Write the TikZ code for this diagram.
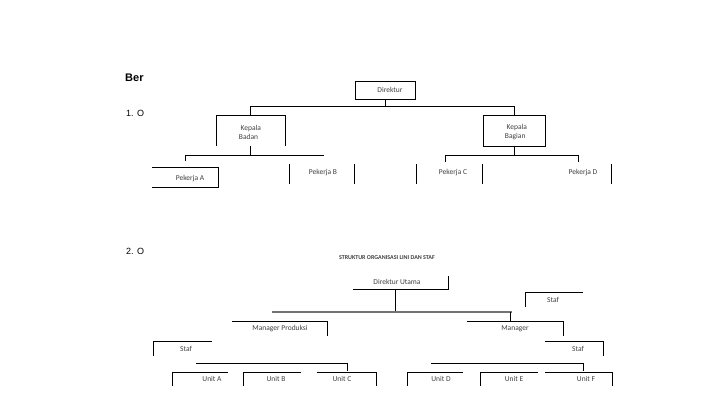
\documentclass[tikz,border=0pt]{standalone}
\usepackage{fontspec}
\setmainfont{Carlito}
\newfontfamily\arialf{Liberation Sans}
\begin{document}
\begin{tikzpicture}[x=1pt,y=-1pt,
  ln/.style={line width=0.9pt,black},
  lbl/.style={font=\fontsize{7.5}{9}\selectfont,text=black!75,inner sep=0pt},
  big/.style={inner sep=0pt,anchor=west}]
\useasboundingbox[fill=white] (0,0) rectangle (720,405);
% headings
\node[big,font=\arialf\bfseries\fontsize{11}{12}\selectfont] (ber) at (125,78) {Ber};
\node[big,font=\arialf\fontsize{9}{10}\selectfont] (s1) at (126,113) {1. O};
\node[big,font=\arialf\fontsize{9}{10}\selectfont] (s2) at (126,251) {2. O};
% ---- part 1
\node[lbl] (dir) at (390,90) {Direktur};
\draw[ln] (355,81) rectangle (415,99);
\coordinate (d1) at (385,99);
\draw[ln] (d1) -- (385,106) (250,115) -- (250,106) -- (514,106) -- (514,115);
\node[lbl,align=left] (kb) at (250,132) {\ Kepala\\Badan};
\draw[ln] (216,146) -- (216,115) -- (285,115) -- (285,146);
\node[lbl,align=left] (kg) at (516,132) {\ Kepala\\Bagian};
\draw[ln] (483,115) rectangle (545,146);
\draw[ln] (250,146) -- (250,155);
\draw[ln] (185,161) -- (185,155) -- (324,155);
\draw[ln] (514,146) -- (514,155);
\draw[ln] (445,162) -- (445,155) -- (578,155) -- (578,162);
\node[lbl] (pa) at (190,179) {Pekerja A};
\draw[ln] (152,167) -- (218,167) -- (218,187) -- (152,187);
\node[lbl] (pb) at (323,173) {Pekerja B};
\draw[ln] (289,164) -- (289,184) (354,164) -- (354,184);
\node[lbl] (pc) at (453,173) {Pekerja C};
\draw[ln] (416,164) -- (416,184) (482,164) -- (482,184);
\node[lbl] (pd) at (583,173) {Pekerja D};
\draw[ln] (611,164) -- (611,184);
% ---- part 2
\node[lbl,font=\fontsize{6}{7}\selectfont\bfseries] (title) at (387,258) {STRUKTUR ORGANISASI LINI DAN STAF};
\node[lbl] (du) at (397,282) {Direktur Utama};
\draw[ln] (353,289) -- (448,289) -- (448,276);
\draw[ln] (395,289) -- (395,312);
\draw[line width=1.8pt,black!55] (272,312) -- (512,312);
\draw[ln] (510,312) -- (510,321);
\node[lbl] (st1) at (553,300) {Staf};
\draw[ln] (525,307) -- (525,292) -- (583,292);
\node[lbl] (mp) at (280,329) {Manager Produksi};
\draw[ln] (232,321) -- (327,321) -- (327,336);
\node[lbl] (mg) at (515,329) {Manager};
\draw[ln] (467,321) -- (563,321) -- (563,336);
\node[lbl] (st2) at (186,349) {Staf};
\draw[ln] (153,356) -- (153,341) -- (212,341);
\node[lbl] (st3) at (578,349) {Staf};
\draw[ln] (545,341) -- (603,341) -- (603,356);
\draw[ln] (196,363) -- (347,363) -- (347,371);
\draw[ln] (431,363) -- (583,363) -- (583,371);
\node[lbl] (ua) at (212,379) {Unit A};
\draw[ln] (172,386) -- (172,372) -- (228,372);
\node[lbl] (ub) at (276,379) {Unit B};
\draw[ln] (243,386) -- (243,372) -- (301,372);
\node[lbl] (uc) at (342,379) {Unit C};
\draw[ln] (317,372) -- (376,372) -- (376,386);
\node[lbl] (ud) at (441,379) {Unit D};
\draw[ln] (407,386) -- (407,372) -- (463,372);
\node[lbl] (ue) at (514,379) {Unit E};
\draw[ln] (480,386) -- (480,372) -- (538,372);
\node[lbl] (uf) at (586,379) {Unit F};
\draw[ln] (545,372) -- (612,372) -- (612,386);
\end{tikzpicture}
\end{document}
